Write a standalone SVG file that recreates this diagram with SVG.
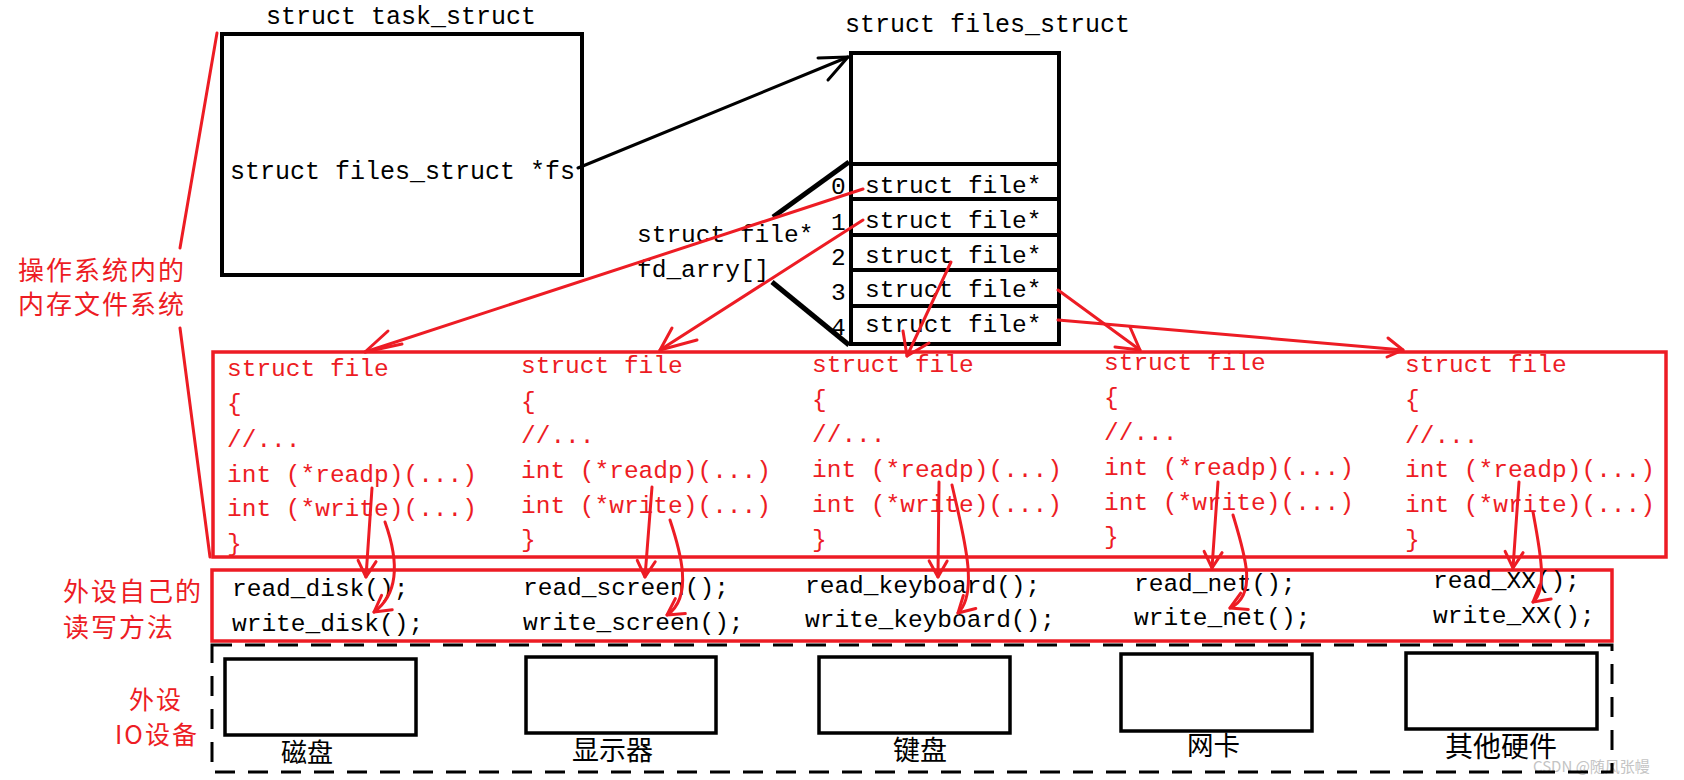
<svg xmlns="http://www.w3.org/2000/svg" width="1684" height="780" viewBox="0 0 1684 780">
<defs>
<style>
.code{font-family:"Liberation Mono","DejaVu Sans Mono",monospace;font-size:24.5px;fill:#000}
.title{font-family:"Liberation Mono","DejaVu Sans Mono",monospace;font-size:25px;fill:#000}
.rcode{font-family:"Liberation Mono","DejaVu Sans Mono",monospace;font-size:24.5px;fill:#ed1c24}
.rlab{font-family:"Noto Sans CJK SC",sans-serif;font-size:26px;letter-spacing:2px;fill:#ed1c24}
.blab{font-family:"Noto Sans CJK SC",sans-serif;font-size:27px;fill:#000}
.bbox{fill:#fff;stroke:#000;stroke-width:4}
.dev{fill:none;stroke:#000;stroke-width:3.5}
.rbox{fill:none;stroke:#ed1c24;stroke-width:3.5}
.rl{fill:none;stroke:#ed1c24;stroke-width:3;stroke-linecap:round;stroke-linejoin:round}
.bl{fill:none;stroke:#000;stroke-width:3;stroke-linecap:round;stroke-linejoin:round}
</style>
<marker id="ah" markerUnits="userSpaceOnUse" markerWidth="1" markerHeight="1" refX="0" refY="0" orient="auto" overflow="visible">
<path d="M-16,-9 L0,0 L-16,9" fill="none" stroke="#ed1c24" stroke-width="3" stroke-linecap="round" stroke-linejoin="round"/>
</marker>
</defs>
<rect width="1684" height="780" fill="#fff"/>

<g id="labels">
<text class="rlab" x="18" y="280">操作系统内的</text>
<text class="rlab" x="18" y="314">内存文件系统</text>
<text class="rlab" x="63" y="601">外设自己的</text>
<text class="rlab" x="63" y="637">读写方法</text>
<text class="rlab" x="129" y="709" style="font-size:25px">外设</text>
<text class="rlab" x="115" y="744" style="font-size:25px">IO设备</text>
<text x="1533" y="772" style="font-family:'Noto Sans CJK SC',sans-serif;font-size:15px;fill:#c4c4c4">CSDN @随风张幔</text>
</g>

<g id="task_struct">
<text class="title" x="266" y="24">struct task_struct</text>
<rect class="bbox" x="222" y="34" width="360" height="241"/>
<text class="title" x="230" y="179">struct files_struct *fs</text>
</g>

<g id="files_struct">
<text class="title" x="845" y="32">struct files_struct</text>
<rect class="bbox" x="851" y="53" width="208" height="291"/>
<g stroke="#000" stroke-width="4">
<line x1="851" y1="164" x2="1059" y2="164"/>
<line x1="851" y1="199" x2="1059" y2="199"/>
<line x1="851" y1="235" x2="1059" y2="235"/>
<line x1="851" y1="270" x2="1059" y2="270"/>
<line x1="851" y1="306" x2="1059" y2="306"/>
</g>
<text class="code" x="865" y="193">struct file*</text>
<text class="code" x="865" y="228">struct file*</text>
<text class="code" x="865" y="263">struct file*</text>
<text class="code" x="865" y="297">struct file*</text>
<text class="code" x="865" y="332">struct file*</text>
<text class="code" x="831" y="194">0</text>
<text class="code" x="831" y="230">1</text>
<text class="code" x="831" y="265">2</text>
<text class="code" x="831" y="300">3</text>
<text class="code" x="831" y="335">4</text>
<line x1="849" y1="162" x2="773" y2="217" stroke="#000" stroke-width="5"/>
<line x1="772" y1="282" x2="849" y2="345" stroke="#000" stroke-width="5"/>
<text class="code" x="637" y="242">struct file*</text>
<text class="code" x="637" y="277">fd_arry[]</text>
</g>

<g id="struct_file_box">
<rect class="rbox" x="213" y="352" width="1453" height="205"/>
<g id="file0">
<text class="rcode" x="227" y="376">struct file</text>
<text class="rcode" x="227" y="411">{</text>
<text class="rcode" x="227" y="447">//...</text>
<text class="rcode" x="227" y="482">int (*readp)(...)</text>
<text class="rcode" x="227" y="516">int (*write)(...)</text>
<text class="rcode" x="227" y="551">}</text>
</g>
<g id="file1">
<text class="rcode" x="521" y="373">struct file</text>
<text class="rcode" x="521" y="409">{</text>
<text class="rcode" x="521" y="443">//...</text>
<text class="rcode" x="521" y="478">int (*readp)(...)</text>
<text class="rcode" x="521" y="513">int (*write)(...)</text>
<text class="rcode" x="521" y="547">}</text>
</g>
<g id="file2">
<text class="rcode" x="812" y="372">struct file</text>
<text class="rcode" x="812" y="407">{</text>
<text class="rcode" x="812" y="442">//...</text>
<text class="rcode" x="812" y="477">int (*readp)(...)</text>
<text class="rcode" x="812" y="512">int (*write)(...)</text>
<text class="rcode" x="812" y="547">}</text>
</g>
<g id="file3">
<text class="rcode" x="1104" y="370">struct file</text>
<text class="rcode" x="1104" y="405">{</text>
<text class="rcode" x="1104" y="440">//...</text>
<text class="rcode" x="1104" y="475">int (*readp)(...)</text>
<text class="rcode" x="1104" y="510">int (*write)(...)</text>
<text class="rcode" x="1104" y="544">}</text>
</g>
<g id="file4">
<text class="rcode" x="1405" y="372">struct file</text>
<text class="rcode" x="1405" y="407">{</text>
<text class="rcode" x="1405" y="443">//...</text>
<text class="rcode" x="1405" y="477">int (*readp)(...)</text>
<text class="rcode" x="1405" y="512">int (*write)(...)</text>
<text class="rcode" x="1405" y="547">}</text>
</g>
</g>

<g id="methods">
<rect class="rbox" x="212" y="570" width="1400" height="71"/>
<text class="code" x="232" y="596">read_disk();</text>
<text class="code" x="232" y="631">write_disk();</text>
<text class="code" x="523" y="595">read_screen();</text>
<text class="code" x="523" y="630">write_screen();</text>
<text class="code" x="805" y="593">read_keyboard();</text>
<text class="code" x="805" y="627">write_keyboard();</text>
<text class="code" x="1134" y="591">read_net();</text>
<text class="code" x="1134" y="625">write_net();</text>
<text class="code" x="1433" y="588">read_XX();</text>
<text class="code" x="1433" y="623">write_XX();</text>
</g>

<g id="devices">
<rect x="212" y="645" width="1400" height="127" fill="none" stroke="#000" stroke-width="3" stroke-dasharray="20 13"/>
<g id="disk"><rect class="dev" x="225" y="659" width="191" height="76"/><text class="blab" x="281" y="762" style="font-size:26px">磁盘</text></g>
<g id="screen"><rect class="dev" x="526" y="657" width="190" height="76"/><text class="blab" x="572" y="760">显示器</text></g>
<g id="keyboard"><rect class="dev" x="819" y="657" width="191" height="76"/><text class="blab" x="893" y="760">键盘</text></g>
<g id="nic"><rect class="dev" x="1121" y="654" width="191" height="77"/><text class="blab" x="1187" y="755" style="font-size:26.5px">网卡</text></g>
<g id="other"><rect class="dev" x="1406" y="653" width="191" height="76"/><text class="blab" x="1445" y="757" style="font-size:28px">其他硬件</text></g>
</g>

<g id="connectors">
<line class="rl" x1="217" y1="33" x2="180" y2="248"/>
<line class="rl" x1="180" y1="328" x2="210" y2="557"/>
<line class="bl" x1="578" y1="168" x2="848" y2="57"/>
<polyline class="bl" points="818,58 848,57 828,80"/>
<line class="rl" x1="863" y1="189" x2="365" y2="352"/>
<polyline class="rl" points="388,331 365,352 402,344"/>
<line class="rl" x1="863" y1="220" x2="660" y2="350"/>
<polyline class="rl" points="672,328 660,350 697,340"/>
<line class="rl" x1="951" y1="262" x2="907" y2="356"/>
<polyline class="rl" points="903,331 907,356 929,343"/>
<line class="rl" x1="1058" y1="290" x2="1140" y2="350"/>
<polyline class="rl" points="1130,327 1140,350 1115,347"/>
<line class="rl" x1="1058" y1="320" x2="1403" y2="350"/>
<polyline class="rl" points="1388,338 1403,350 1387,357"/>
<line class="rl" x1="372" y1="488" x2="366" y2="577" marker-end="url(#ah)"/>
<line class="rl" x1="652" y1="487" x2="645" y2="577" marker-end="url(#ah)"/>
<line class="rl" x1="939" y1="482" x2="938" y2="577" marker-end="url(#ah)"/>
<line class="rl" x1="1218" y1="482" x2="1212" y2="568" marker-end="url(#ah)"/>
<line class="rl" x1="1519" y1="482" x2="1513" y2="568" marker-end="url(#ah)"/>
<path class="rl" d="M385,522 C395,550 404,590 374,612" marker-end="url(#ah)"/>
<path class="rl" d="M670,520 C680,550 694,597 667,615" marker-end="url(#ah)"/>
<path class="rl" d="M952,485 C962,530 980,592 958,613" marker-end="url(#ah)"/>
<path class="rl" d="M1233,515 C1245,555 1258,595 1230,608" marker-end="url(#ah)"/>
<path class="rl" d="M1533,512 C1540,550 1548,590 1533,602" marker-end="url(#ah)"/>
</g>
</svg>
